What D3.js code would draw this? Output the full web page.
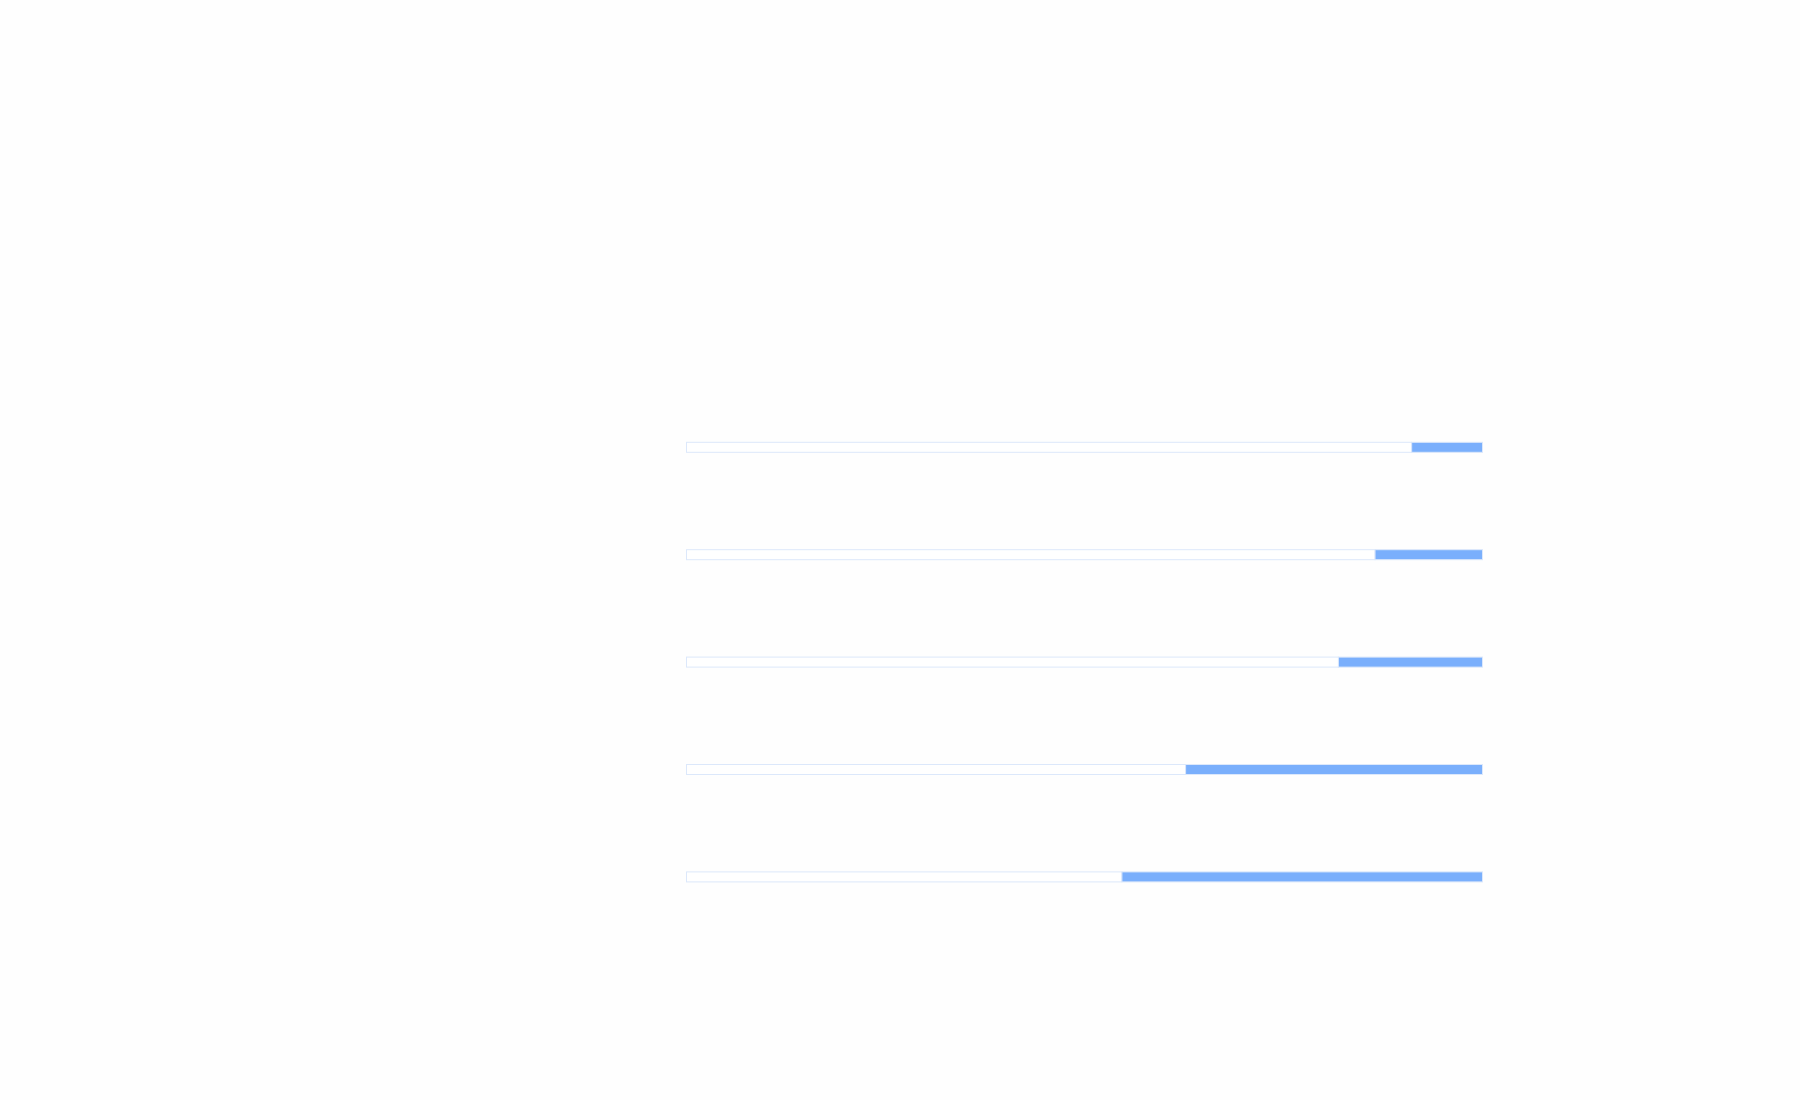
<!DOCTYPE html>
<html>
<head>
<meta charset="utf-8">
<script src="https://cdn.jsdelivr.net/npm/d3@7"></script>
<style>
html,body{margin:0;padding:0;background:#fefefe;}
svg{display:block;}
</style>
</head>
<body>
<svg id="chart" width="1800" height="1100"></svg>
<script>
const categories = ["Item 1", "Item 2", "Item 3", "Item 4", "Item 5"];
const baseValues = [91.1, 86.5, 81.9, 62.7, 54.7];
const restValues = baseValues.map(v => 100 - v);
const maxValue = 100;

const svg = d3.select("#chart");
const x = d3.scaleLinear().domain([0, maxValue]).range([686.5, 1482.5]);
const y = d3.scalePoint().domain(categories).range([393.6, 930.6]).padding(0.5);
const barH = 10;

const g = svg.append("g");
const rows = g.selectAll("g.row").data(categories).join("g").attr("class", "row");

rows.append("rect")
  .attr("x", x(0))
  .attr("y", d => y(d) - barH / 2)
  .attr("width", (d, i) => x(baseValues[i]) - x(0))
  .attr("height", barH)
  .attr("fill", "#ffffff")
  .attr("stroke", "#dce8fb")
  .attr("stroke-width", 1);

rows.append("rect")
  .attr("x", (d, i) => x(baseValues[i]))
  .attr("y", d => y(d) - barH / 2)
  .attr("width", (d, i) => x(baseValues[i] + restValues[i]) - x(baseValues[i]))
  .attr("height", barH)
  .attr("fill", "#7aaffc")
  .attr("stroke", "#dce8fb")
  .attr("stroke-width", 1);
</script>
</body>
</html>
